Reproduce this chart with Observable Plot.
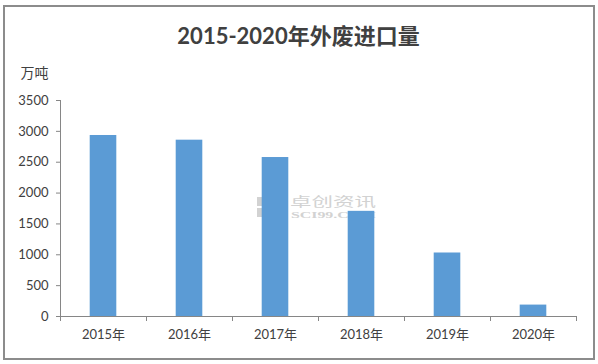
<!DOCTYPE html>
<html>
<head>
<meta charset="utf-8">
<script src="https://cdn.jsdelivr.net/npm/d3@7"></script>
<script src="https://cdn.jsdelivr.net/npm/@observablehq/plot@0.6"></script>
<style>
  html, body { margin: 0; padding: 0; background: #fff; }
</style>
</head>
<body>
<div id="chart"></div>
<script>
const title = "2015-2020年外废进口量";
const unitLabel = "万吨";
const years = ["2015年", "2016年", "2017年", "2018年", "2019年", "2020年"];
const values = [2933, 2857, 2576, 1704, 1029, 185];
const yTicks = [0, 500, 1000, 1500, 2000, 2500, 3000, 3500];

const data = years.map((year, i) => ({i, year, value: values[i]}));
const font = "Lato, 'Noto Sans CJK SC', sans-serif";
const axisGray = "#868686";
const textColor = "#404040";

const chart = Plot.plot({
  width: 598,
  height: 364,
  marginTop: 100,
  marginBottom: 48,
  marginLeft: 60,
  marginRight: 22,
  style: {fontFamily: font, fontSize: "13px", color: textColor, background: "#fff", overflow: "visible"},
  x: {domain: [0, years.length], axis: null},
  y: {domain: [0, 3500], axis: null},
  marks: [
    Plot.rectY(data, {x1: "i", x2: d => d.i + 1, y: "value", fill: "#5b9bd5", insetLeft: 29.7, insetRight: 29.7}),
    Plot.ruleX([0], {stroke: axisGray}),
    Plot.ruleY([0], {stroke: axisGray}),
    Plot.axisY({ticks: yTicks, tickSize: 4, tickPadding: 8, tickFormat: d => String(d), stroke: axisGray, fill: textColor, label: null, fontSize: 13}),
    Plot.axisX({ticks: d3.range(years.length + 1), tickSize: 5, tickFormat: () => "", stroke: axisGray, label: null}),
    Plot.axisX({ticks: d3.range(years.length).map(i => i + 0.5), tickSize: 0, tickPadding: 13, tickFormat: v => years[Math.floor(v)], fill: textColor, label: null, fontSize: 13}),
    Plot.text([title], {text: d => d, frameAnchor: "top", lineAnchor: "middle", dx: -20, dy: -64, fontSize: 22, fontWeight: "bold", fill: textColor}),
    Plot.text([unitLabel], {text: d => d, frameAnchor: "top-left", lineAnchor: "middle", textAnchor: "start", dx: -40, dy: -27, fontSize: 14, fill: textColor})
  ]
});

const svg = d3.select(chart);
// watermark underneath the bars
const wm = svg.insert("g", ":first-child").attr("fill", "#d2d2d2").attr("text-anchor", "start");
wm.append("rect").attr("x", 257).attr("y", 197).attr("width", 10).attr("height", 9);
wm.append("rect").attr("x", 257).attr("y", 208).attr("width", 10).attr("height", 9);
wm.append("text").attr("x", 290).attr("y", 206).attr("font-size", 13).attr("textLength", 86).attr("lengthAdjust", "spacingAndGlyphs")
  .attr("font-family", "'Noto Sans CJK SC', sans-serif").text("卓创资讯");
wm.append("text").attr("x", 291).attr("y", 218).attr("font-size", 8).attr("textLength", 85).attr("lengthAdjust", "spacingAndGlyphs")
  .attr("font-family", "'Liberation Serif', serif").attr("font-weight", "bold").text("SCI99.COM");
// outer frame
svg.append("rect").attr("x", 4).attr("y", 6).attr("width", 590).attr("height", 353)
  .attr("fill", "none").attr("stroke", "#8c8c8c").attr("stroke-width", 2);

document.getElementById("chart").appendChild(chart);
</script>
</body>
</html>
